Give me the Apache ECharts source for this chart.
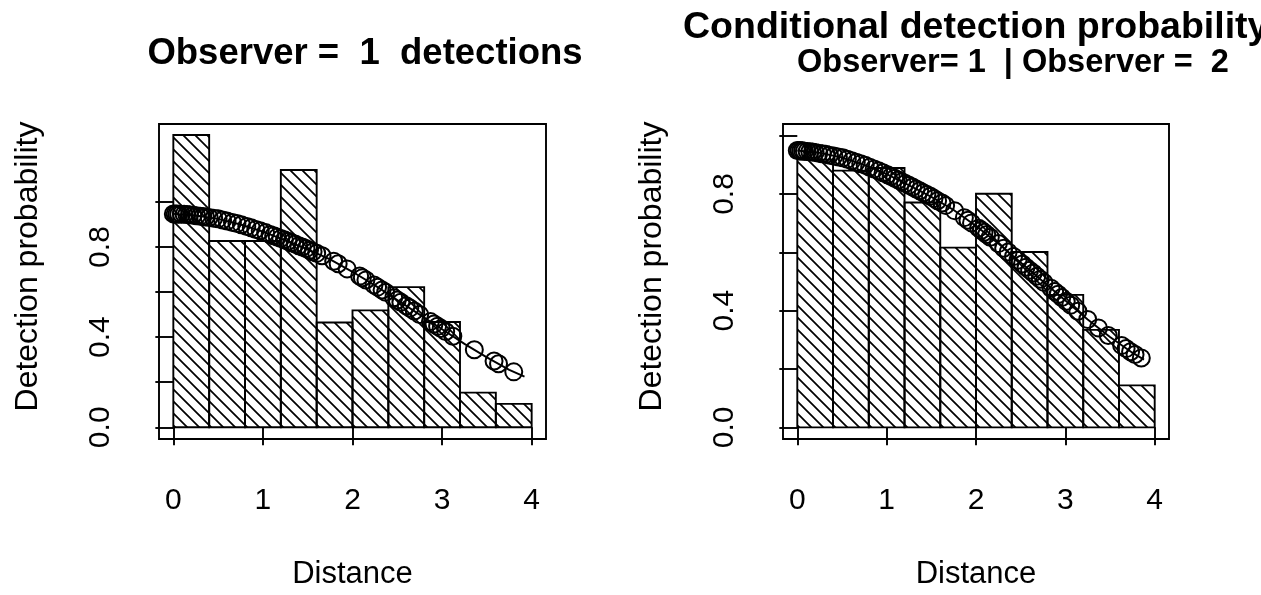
<!DOCTYPE html>
<html>
<head>
<meta charset="utf-8">
<script src="https://cdn.jsdelivr.net/npm/echarts@6/dist/echarts.min.js"></script>
<style>html,body{margin:0;padding:0;background:#fff;}#c{width:1261px;height:595px;}</style>
</head>
<body>
<div id="c"></div>
<script>
// ---- data ----
const binEdges = [0, 0.4, 0.8, 1.2, 1.6, 2.0, 2.4, 2.8, 3.2, 3.6, 4.0];
const obs1Heights = [1.297, 0.827, 0.827, 1.142, 0.465, 0.519, 0.622, 0.467, 0.154, 0.104];
const condHeights = [0.918, 0.880, 0.889, 0.771, 0.616, 0.801, 0.601, 0.454, 0.334, 0.144];

const obs1Dist = [0.00,0.02,0.04,0.06,0.09,0.12,0.15,0.18,0.22,0.26,0.30,0.33,0.36,0.40,0.45,0.50,0.55,0.60,0.66,0.71,0.76,0.82,0.87,0.92,0.97,1.03,1.08,1.12,1.16,1.20,1.24,1.28,1.32,1.36,1.40,1.44,1.48,1.52,1.56,1.60,1.66,1.79,1.84,1.94,2.08,2.11,2.15,2.24,2.28,2.33,2.37,2.46,2.50,2.54,2.60,2.64,2.69,2.75,2.87,2.91,2.95,2.99,3.04,3.12,3.36,3.58,3.63,3.80];
const obs1Prob = [0.947,0.947,0.947,0.946,0.946,0.945,0.944,0.943,0.941,0.939,0.937,0.935,0.933,0.931,0.928,0.925,0.920,0.915,0.909,0.904,0.899,0.891,0.885,0.878,0.872,0.864,0.856,0.850,0.844,0.838,0.832,0.826,0.819,0.813,0.806,0.800,0.793,0.786,0.779,0.772,0.761,0.737,0.726,0.703,0.671,0.664,0.654,0.632,0.622,0.609,0.599,0.575,0.565,0.555,0.539,0.529,0.516,0.500,0.469,0.458,0.448,0.438,0.425,0.404,0.344,0.294,0.282,0.246];

const condDist = [0.00,0.02,0.04,0.06,0.08,0.11,0.14,0.17,0.20,0.24,0.28,0.32,0.36,0.41,0.46,0.51,0.56,0.61,0.66,0.71,0.76,0.81,0.86,0.91,0.96,1.01,1.05,1.09,1.13,1.17,1.21,1.25,1.29,1.33,1.37,1.41,1.45,1.49,1.53,1.57,1.62,1.66,1.76,1.87,1.91,1.95,2.03,2.06,2.09,2.12,2.16,2.25,2.31,2.36,2.42,2.47,2.52,2.56,2.60,2.64,2.68,2.72,2.76,2.84,2.88,2.92,2.96,3.01,3.06,3.14,3.25,3.37,3.48,3.63,3.68,3.73,3.78,3.85];
const condProb = [0.949,0.949,0.948,0.948,0.947,0.946,0.945,0.944,0.942,0.940,0.938,0.936,0.933,0.930,0.927,0.924,0.919,0.914,0.909,0.904,0.899,0.892,0.886,0.880,0.873,0.866,0.860,0.854,0.848,0.842,0.836,0.830,0.824,0.817,0.811,0.804,0.798,0.792,0.785,0.777,0.769,0.761,0.743,0.719,0.710,0.701,0.683,0.676,0.669,0.661,0.652,0.630,0.614,0.601,0.586,0.573,0.560,0.549,0.539,0.529,0.518,0.508,0.497,0.477,0.466,0.456,0.445,0.432,0.419,0.398,0.370,0.341,0.315,0.281,0.270,0.259,0.250,0.238];

const curveDist1 = [0, 0.25, 0.5, 0.75, 1.0, 1.25, 1.5, 1.75, 2.0, 2.25, 2.5, 2.75, 3.0, 3.25, 3.5, 3.75, 3.92];
const curveProb1 = [0.947, 0.940, 0.925, 0.900, 0.868, 0.830, 0.790, 0.745, 0.690, 0.630, 0.565, 0.500, 0.435, 0.370, 0.310, 0.255, 0.225];
const curveDist2 = [0, 0.25, 0.5, 0.75, 1.0, 1.25, 1.5, 1.75, 2.0, 2.25, 2.5, 2.75, 3.0, 3.25, 3.5, 3.75, 3.88];
const curveProb2 = [0.949, 0.941, 0.925, 0.900, 0.868, 0.830, 0.790, 0.745, 0.690, 0.630, 0.565, 0.500, 0.435, 0.370, 0.310, 0.256, 0.232];

const xTicks = [0, 1, 2, 3, 4];
const yTicks = [0, 0.2, 0.4, 0.6, 0.8, 1.0];
const yLabels = [0, 0.4, 0.8];

const titleLeft = 'Observer =  1  detections';
const titleRight1 = 'Conditional detection probability';
const titleRight2 = 'Observer= 1  | Observer =  2';
const xName = 'Distance';
const yName = 'Detection probability';

// ---- styling helpers ----
const FONT = '"Liberation Sans", Arial, Helvetica, sans-serif';
const LW = 1.9;

function hatchPattern() {
  const s = 12;
  const c = document.createElement('canvas');
  c.width = s; c.height = s;
  const g = c.getContext('2d');
  g.strokeStyle = '#000';
  g.lineWidth = 1.7;
  g.beginPath();
  g.moveTo(-2, -2); g.lineTo(s + 2, s + 2);
  g.moveTo(-2, s - 2); g.lineTo(2, s + 2);
  g.moveTo(s - 2, -2); g.lineTo(s + 2, 2);
  g.stroke();
  return { image: c, repeat: 'repeat' };
}
const pattern = hatchPattern();

function bins(heights) {
  return heights.map((h, i) => [binEdges[i], binEdges[i + 1], h]);
}
function pairs(xs, ys) { return xs.map((x, i) => [x, ys[i]]); }

function renderBar(params, api) {
  const p0 = api.coord([api.value(0), api.value(2)]);
  const p1 = api.coord([api.value(1), 0]);
  return {
    type: 'rect',
    shape: { x: p0[0], y: p0[1], width: p1[0] - p0[0], height: p1[1] - p0[1] },
    style: { fill: pattern, stroke: '#000', lineWidth: LW }
  };
}

function xAxis(gi) {
  return {
    type: 'value', gridIndex: gi, min: -0.16, max: 4.16,
    name: xName, nameLocation: 'middle', nameGap: 120,
    nameTextStyle: { fontFamily: FONT, fontSize: 31, color: '#000' },
    axisLine: { show: false },
    axisTick: { show: true, length: 18, customValues: xTicks, lineStyle: { color: '#000', width: LW } },
    axisLabel: { customValues: xTicks, margin: 47, fontFamily: FONT, fontSize: 30, color: '#000',
      formatter: v => String(Math.round(v)) },
    splitLine: { show: false }
  };
}
function yAxis(gi, max, min) {
  return {
    type: 'value', gridIndex: gi, min: min, max: max,
    name: yName, nameLocation: 'middle', nameGap: 115, nameRotate: 90,
    nameTextStyle: { fontFamily: FONT, fontSize: 32, color: '#000', padding: [0, 0, 0, 30] },
    axisLine: { show: false },
    axisTick: { show: true, length: 18, customValues: yTicks, lineStyle: { color: '#000', width: LW } },
    axisLabel: { customValues: yLabels, rotate: 90, margin: 43, fontFamily: FONT, fontSize: 30, color: '#000',
      formatter: v => v.toFixed(1) },
    splitLine: { show: false }
  };
}

const chart = echarts.init(document.getElementById('c'), null, { renderer: 'canvas' });
chart.setOption({
  animation: false,
  backgroundColor: '#fff',
  title: [
    { text: titleLeft, left: 365, top: 35, textAlign: 'center', padding: 0,
      textStyle: { fontFamily: FONT, fontSize: 36.5, fontWeight: 'bold', color: '#000' } },
    { text: titleRight1, left: 683, top: 9, padding: 0,
      textStyle: { fontFamily: FONT, fontSize: 37.5, fontWeight: 'bold', color: '#000' } },
    { text: titleRight2, left: 797, top: 47, padding: 0,
      textStyle: { fontFamily: FONT, fontSize: 32.5, fontWeight: 'bold', color: '#000' } }
  ],
  grid: [
    { left: 159, top: 124, width: 387, height: 318, show: true, borderColor: '#000', borderWidth: LW, backgroundColor: 'transparent' },
    { left: 783, top: 124, width: 386, height: 318, show: true, borderColor: '#000', borderWidth: LW, backgroundColor: 'transparent' }
  ],
  xAxis: [xAxis(0), xAxis(1)],
  yAxis: [yAxis(0, 1.346, -0.052), yAxis(1, 1.04, -0.04)],
  series: [
    { type: 'custom', xAxisIndex: 0, yAxisIndex: 0, renderItem: renderBar, data: bins(obs1Heights), encode: { x: [0, 1], y: 2 }, z: 1 },
    { type: 'custom', xAxisIndex: 1, yAxisIndex: 1, renderItem: renderBar, data: bins(condHeights), encode: { x: [0, 1], y: 2 }, z: 1 },
    { type: 'line', xAxisIndex: 0, yAxisIndex: 0, data: pairs(curveDist1, curveProb1), showSymbol: false, symbol: 'none',
      lineStyle: { color: '#000', width: LW }, z: 2 },
    { type: 'line', xAxisIndex: 1, yAxisIndex: 1, data: pairs(curveDist2, curveProb2), showSymbol: false, symbol: 'none',
      lineStyle: { color: '#000', width: LW }, z: 2 },
    { type: 'scatter', xAxisIndex: 0, yAxisIndex: 0, data: pairs(obs1Dist, obs1Prob), symbol: 'circle', symbolSize: 17,
      itemStyle: { color: 'rgba(0,0,0,0)', borderColor: '#000', borderWidth: 2, opacity: 1 }, z: 3 },
    { type: 'scatter', xAxisIndex: 1, yAxisIndex: 1, data: pairs(condDist, condProb), symbol: 'circle', symbolSize: 17,
      itemStyle: { color: 'rgba(0,0,0,0)', borderColor: '#000', borderWidth: 2, opacity: 1 }, z: 3 }
  ]
});
</script>
</body>
</html>
